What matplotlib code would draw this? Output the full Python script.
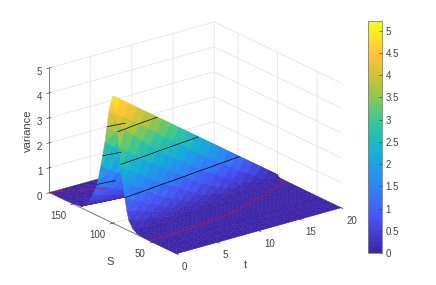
import matplotlib
matplotlib.use('Agg')
import matplotlib.pyplot as plt
from matplotlib.colors import LinearSegmentedColormap
import numpy as np

plt.rcParams['font.family'] = ['Liberation Sans', 'DejaVu Sans']

t = [0, 1, 2, 3, 4, 5, 6, 7, 8, 9, 10, 11, 12, 13, 14, 15, 16, 17, 18, 19, 20]
S = [20, 30, 40, 50, 55, 60, 65, 70, 75, 80, 82.5, 85, 87.5, 90, 92.5, 95, 97.5, 100,
     102.5, 105, 107.5, 110, 115, 120, 125, 130, 135, 140, 150, 160, 180]
variance = [
    [0, 0, 0, .002, .006, .012, .020, .05, .16, .42, .78, 1.25, 1.80, 2.40, 3.15, 4.00, 4.45, 5.10, 4.80, 4.40, 3.75, 3.10, 2.10, 1.20, .75, .45, .18, .06, .020, .012, .005],
    [0, 0, 0, .002, .006, .011, .018, .043, .13, .36, .67, 1.08, 1.60, 2.17, 2.90, 3.70, 4.20, 4.85, 4.45, 4.05, 3.45, 2.85, 1.85, 1.05, .65, .38, .15, .05, .018, .011, .004],
    [0, 0, 0, .002, .006, .010, .016, .036, .11, .30, .57, .92, 1.40, 1.94, 2.65, 3.40, 3.95, 4.60, 4.15, 3.70, 3.12, 2.55, 1.60, .90, .55, .31, .12, .045, .016, .009, .003],
    [0, 0, 0, .002, .006, .009, .014, .029, .08, .24, .46, .75, 1.19, 1.72, 2.40, 3.10, 3.70, 4.35, 3.85, 3.35, 2.80, 2.25, 1.35, .78, .47, .25, .10, .04, .014, .007, .002],
    [0, 0, 0, .002, .0055, .008, .012, .022, .055, .18, .36, .59, .99, 1.49, 2.15, 2.80, 3.45, 4.10, 3.55, 3.00, 2.47, 1.95, 1.15, .66, .40, .20, .08, .035, .012, .006, .002],
    [0, 0, 0, .002, .005, .007, .010, .015, .03, .12, .25, .42, .78, 1.27, 1.90, 2.50, 3.20, 3.85, 3.25, 2.65, 2.15, 1.65, .95, .55, .32, .16, .065, .03, .01, .005, .001],
    [0, 0, 0, .001, .0045, .0065, .010, .014, .029, .105, .21, .35, .64, 1.09, 1.67, 2.26, 2.94, 3.60, 2.97, 2.35, 1.87, 1.40, .80, .45, .26, .13, .05, .025, .008, .004, .001],
    [0, 0, 0, .001, .004, .006, .009, .013, .028, .09, .17, .28, .49, .91, 1.44, 2.02, 2.68, 3.35, 2.70, 2.05, 1.62, 1.20, .66, .36, .20, .10, .04, .02, .006, .003, .001],
    [0, 0, 0, 0, .003, .0055, .009, .013, .027, .075, .135, .20, .35, .72, 1.22, 1.78, 2.42, 3.10, 2.45, 1.80, 1.40, 1.00, .54, .28, .16, .08, .03, .015, .005, .002, 0],
    [0, 0, 0, 0, .002, .005, .008, .012, .026, .06, .095, .14, .25, .54, .99, 1.54, 2.16, 2.85, 2.20, 1.55, 1.18, .82, .42, .22, .12, .06, .025, .01, .004, .002, 0],
    [0, 0, 0, 0, .001, .005, .008, .012, .025, .045, .06, .08, .16, .36, .76, 1.30, 1.90, 2.60, 1.95, 1.30, .98, .66, .32, .17, .09, .04, .02, .008, .003, .001, 0],
    [0, 0, 0, 0, .001, .004, .006, .010, .021, .038, .05, .07, .13, .30, .62, 1.10, 1.67, 2.35, 1.72, 1.10, .81, .52, .25, .13, .07, .03, .015, .006, .002, .001, 0],
    [0, 0, 0, 0, .0005, .003, .005, .008, .017, .031, .042, .06, .11, .23, .48, .90, 1.44, 2.10, 1.50, .90, .65, .40, .19, .09, .05, .02, .01, .004, .001, 0, 0],
    [0, 0, 0, 0, 0, .002, .003, .006, .013, .025, .034, .045, .08, .17, .34, .70, 1.21, 1.85, 1.28, .72, .51, .30, .14, .06, .03, .012, .006, .002, .001, 0, 0],
    [0, 0, 0, 0, 0, .001, .002, .004, .0095, .018, .027, .035, .05, .10, .20, .50, .98, 1.60, 1.08, .56, .39, .22, .09, .04, .02, .008, .003, .001, 0, 0, 0],
    [0, 0, 0, 0, 0, 0, .001, .002, .006, .012, .02, .025, .03, .04, .06, .30, .75, 1.35, .88, .42, .28, .15, .06, .02, .01, .004, .001, 0, 0, 0, 0],
    [0, 0, 0, 0, 0, 0, .0007, .0013, .0045, .009, .015, .019, .024, .032, .047, .21, .55, 1.10, .70, .30, .20, .10, .03, .01, .004, .001, 0, 0, 0, 0, 0],
    [0, 0, 0, 0, 0, 0, 0, .0007, .0025, .005, .010, .013, .018, .023, .033, .12, .35, .85, .52, .20, .13, .06, .015, .004, .001, 0, 0, 0, 0, 0, 0],
    [0, 0, 0, 0, 0, 0, 0, 0, .001, .002, .005, .008, .012, .015, .02, .03, .14, .60, .36, .12, .075, .03, .005, .001, 0, 0, 0, 0, 0, 0, 0],
    [0, 0, 0, 0, 0, 0, 0, 0, .0005, .001, .0025, .004, .006, .008, .011, .018, .076, .35, .20, .05, .03, .01, .001, 0, 0, 0, 0, 0, 0, 0, 0],
    [0, 0, 0, 0, 0, 0, 0, 0, 0, 0, 0, 0, 0, .001, .003, .006, .012, .10, .05, .005, .003, .001, 0, 0, 0, 0, 0, 0, 0, 0, 0],
]
black_levels = [1.25, 2.5, 3.75]
red_levels = [.005]
z_ticks = [0, 1, 2, 3, 4, 5]
t_ticks = [0, 5, 10, 15, 20]
S_ticks = [50, 100, 150]
bar_ticks = [0, .5, 1, 1.5, 2, 2.5, 3, 3.5, 4, 4.5, 5]
bar_labels = ['0', '0.5', '1', '1.5', '2', '2.5', '3', '3.5', '4', '4.5', '5']

parula = LinearSegmentedColormap.from_list('parula', [
    (0.2422, 0.1504, 0.6603), (0.2810, 0.3228, 0.9579), (0.1786, 0.5289, 0.9682),
    (0.0689, 0.6948, 0.8394), (0.2161, 0.7843, 0.5923), (0.6720, 0.7793, 0.2227),
    (0.9970, 0.7659, 0.2199), (0.9769, 0.9839, 0.0805)], N=64)

W, H = 436, 285
gray = '#404040'
fig = plt.figure(figsize=(W / 100, H / 100), dpi=100)

# square 3d axes, placed in pixels
L = 314
cx, cy = 191, 142
ax = fig.add_axes([(cx - L / 2) / W, (H - cy - L / 2) / H, L / W, L / H],
                  projection='3d', proj_type='ortho', computed_zorder=False)
ax.patch.set_alpha(0)
ax.view_init(elev=21.5, azim=-127.3)
ax.set_box_aspect((207.4, 209.6, 134.3))

T, SS = np.meshgrid(t, S, indexing='ij')
Z = np.array(variance)
i = S.index(100)

# triangles cut along the flank direction, so the colours do not saw-tooth
n_t, n_S = Z.shape
tris = []
for r in range(n_t - 1):
    for c in range(n_S - 1):
        a0 = r * n_S + c
        b0 = a0 + 1
        a1 = a0 + n_S
        b1 = a1 + 1
        if c < i:
            tris += [[a0, b0, b1], [a0, b1, a1]]
        else:
            tris += [[a0, b0, a1], [b0, b1, a1]]

surf = ax.plot_trisurf(T.ravel(), SS.ravel(), Z.ravel(), triangles=tris, cmap=parula, vmin=0, vmax=5.22,
                       linewidth=0, antialiased=True, shade=False, zorder=1)
surf.set_edgecolor('face')
surf.set_linewidth(.3)

# front flank all the way, back flank only where it can be seen under the ridge
ax.contour(T[:, :i + 1], SS[:, :i + 1], Z[:, :i + 1], levels=black_levels, colors='k', linewidths=.5, zorder=2)
ax.contour(T[:, :i + 1], SS[:, :i + 1], Z[:, :i + 1], levels=red_levels, colors='#d0103a', linewidths=.5, zorder=2)
ax.contour(T[:3, i:], SS[:3, i:], Z[:3, i:], levels=black_levels, colors='k', linewidths=.5, zorder=2)
ax.contour(T[:6, i:], SS[:6, i:], Z[:6, i:], levels=red_levels, colors='#d0103a', linewidths=.5, zorder=2)

ax.set_xlim(0, 20, view_margin=0)
ax.set_ylim(20, 180, view_margin=0)
ax.set_zlim(0, 5, view_margin=0)
ax.set_xticks(t_ticks)
ax.set_yticks(S_ticks)
ax.set_zticks(z_ticks)
ax.tick_params(labelsize=7, colors=gray, pad=-3)
ax.tick_params(axis='z', pad=-4)
for tl in ax.get_xticklabels():
    tl.set_ha('left')
for tl in ax.get_yticklabels():
    tl.set_ha('right')

for a in (ax.xaxis, ax.yaxis, ax.zaxis):
    a.set_pane_color((1, 1, 1, 0))
    a.pane.set_edgecolor((1, 1, 1, 0))
    a.line.set_color('#707070')
    a.line.set_linewidth(.6)
    a._axinfo['grid']['color'] = '#e6e6e6'
    a._axinfo['grid']['linewidth'] = .6
    a._axinfo['tick']['linewidth'] = {True: .5, False: .5}
    a._axinfo['tick']['color'] = '#707070'

fig.text(110 / W, 1 - 262 / H, 'S', fontsize=8, color=gray, ha='center', va='center')
fig.text(245 / W, 1 - 265 / H, 't', fontsize=8, color=gray, ha='center', va='center')
fig.text(28 / W, 1 - 131 / H, 'variance', fontsize=8, color=gray, ha='center', va='center', rotation=90)

# colorbar
cax = fig.add_axes([368 / W, 1 - 253 / H, 13.5 / W, 232 / H])
cb = fig.colorbar(surf, cax=cax)
cb.set_ticks(bar_ticks)
cb.set_ticklabels(bar_labels)
cb.ax.tick_params(labelsize=7, colors=gray, direction='in', length=2, width=.5, pad=3)
cb.outline.set_edgecolor('#808080')
cb.outline.set_linewidth(.6)

fig.savefig('out.png', dpi=100)
